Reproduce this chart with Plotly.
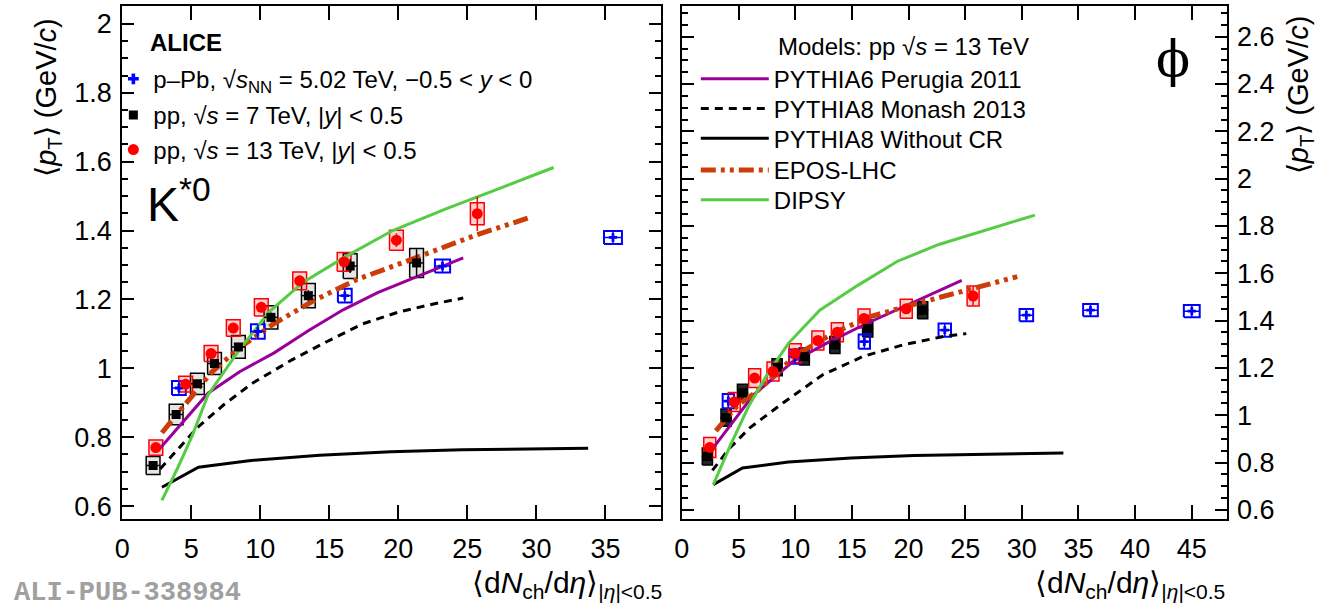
import plotly.graph_objects as go

W, H = 1319, 616

# ---------------- K*0 panel: data ----------------
ks_pp13_x = [2.43, 4.59, 6.43, 8.04, 10.07, 12.85, 16.07, 19.86, 25.72]
ks_pp13_y = [0.770, 0.954, 1.043, 1.117, 1.177, 1.254, 1.309, 1.372, 1.449]
ks_pp13_stat = [0.010, 0.010, 0.010, 0.011, 0.012, 0.013, 0.015, 0.020, 0.050]
ks_pp13_sys = [0.022, 0.023, 0.023, 0.024, 0.025, 0.026, 0.027, 0.029, 0.032]
ks_pp13_sysx = [0.5, 0.5, 0.5, 0.5, 0.5, 0.5, 0.5, 0.5, 0.5]

ks_pp7_x = [2.23, 3.90, 5.44, 6.68, 8.41, 10.77, 13.48, 16.51, 21.32]
ks_pp7_y = [0.718, 0.866, 0.955, 1.014, 1.062, 1.148, 1.211, 1.297, 1.306]
ks_pp7_stat = [0.008, 0.010, 0.010, 0.012, 0.012, 0.014, 0.016, 0.020, 0.040]
ks_pp7_sys = [0.026, 0.030, 0.031, 0.032, 0.033, 0.034, 0.035, 0.036, 0.042]
ks_pp7_sysx = [0.5, 0.5, 0.5, 0.5, 0.5, 0.5, 0.5, 0.5, 0.5]

ks_ppb_x = [4.10, 9.82, 16.12, 23.20, 35.55]
ks_ppb_y = [0.943, 1.107, 1.211, 1.297, 1.380]
ks_ppb_sys = [0.020, 0.021, 0.020, 0.019, 0.019]
ks_ppb_sysx = [0.5, 0.5, 0.5, 0.55, 0.65]

# ---------------- K*0 panel: models ----------------
ks_p6_x = [2.69, 4.5, 6.21, 8.5, 11.0, 13.5, 16.0, 18.5, 21.5, 24.7]
ks_p6_y = [0.766, 0.85, 0.928, 0.99, 1.045, 1.11, 1.17, 1.22, 1.27, 1.321]
ks_mon_x = [2.74, 5.44, 7.37, 9.43, 12.26, 14.84, 17.41, 19.98, 22.55, 24.7]
ks_mon_y = [0.708, 0.828, 0.895, 0.957, 1.024, 1.078, 1.129, 1.163, 1.187, 1.204]
ks_nocr_x = [2.87, 5.52, 9.17, 14.3, 19.46, 24.6, 33.75]
ks_nocr_y = [0.655, 0.713, 0.732, 0.748, 0.758, 0.764, 0.768]
ks_epos_x = [2.87, 4.8, 6.5, 8.5, 11.0, 13.8, 17.0, 21.2, 25.7, 29.45]
ks_epos_y = [0.813, 0.909, 0.99, 1.06, 1.13, 1.195, 1.258, 1.32, 1.388, 1.437]
ks_dipsy_x = [2.87, 4.0, 5.06, 6.21, 8.5, 10.66, 13.11, 16.2, 19.59, 23.4, 27.2, 31.25]
ks_dipsy_y = [0.617, 0.71, 0.804, 0.923, 1.055, 1.165, 1.250, 1.325, 1.400, 1.462, 1.520, 1.583]

# ---------------- phi panel: data ----------------
phi_pp13_x = [2.46, 4.62, 6.42, 8.04, 10.0, 12.0, 13.72, 16.07, 19.8, 25.7]
phi_pp13_y = [0.864, 1.056, 1.157, 1.185, 1.262, 1.316, 1.351, 1.409, 1.450, 1.504]
phi_pp13_stat = [0.012, 0.012, 0.012, 0.012, 0.013, 0.014, 0.015, 0.016, 0.020, 0.040]
phi_pp13_sys = [0.042, 0.040, 0.040, 0.040, 0.040, 0.040, 0.040, 0.040, 0.040, 0.042]
phi_pp13_sysx = [0.53, 0.53, 0.53, 0.53, 0.53, 0.53, 0.53, 0.53, 0.53, 0.53]

phi_pp7_x = [2.25, 3.9, 5.35, 8.4, 10.8, 13.5, 16.4, 21.25]
phi_pp7_y = [0.826, 0.99, 1.095, 1.203, 1.248, 1.297, 1.367, 1.444]
phi_pp7_stat = [0.010, 0.010, 0.010, 0.012, 0.012, 0.013, 0.015, 0.020]
phi_pp7_sys = [0.036, 0.036, 0.036, 0.036, 0.036, 0.036, 0.036, 0.036]
phi_pp7_sysx = [0.45, 0.45, 0.45, 0.45, 0.45, 0.45, 0.45, 0.45]

phi_ppb_x = [4.1, 9.97, 16.1, 23.2, 30.4, 36.06, 45.0]
phi_ppb_y = [1.060, 1.248, 1.311, 1.360, 1.423, 1.444, 1.440]
phi_ppb_sys = [0.030, 0.030, 0.030, 0.028, 0.026, 0.026, 0.026]
phi_ppb_sysx = [0.5, 0.5, 0.5, 0.55, 0.6, 0.65, 0.7]

# ---------------- phi panel: models ----------------
phi_p6_x = [2.8, 6.3, 9.8, 13.04, 16.4, 20.0, 24.7]
phi_p6_y = [0.864, 1.085, 1.227, 1.311, 1.39, 1.469, 1.570]
phi_mon_x = [2.69, 4.2, 6.02, 8.95, 12.46, 15.96, 19.47, 22.98, 25.1]
phi_mon_y = [0.767, 0.86, 0.948, 1.053, 1.172, 1.248, 1.297, 1.332, 1.345]
phi_nocr_x = [2.77, 5.35, 9.4, 14.93, 20.46, 27.84, 33.67]
phi_nocr_y = [0.707, 0.777, 0.802, 0.819, 0.830, 0.837, 0.841]
phi_epos_x = [3.0, 4.85, 6.6, 8.36, 10.1, 13.33, 16.55, 20.64, 25.03, 29.6]
phi_epos_y = [0.934, 1.039, 1.100, 1.175, 1.255, 1.346, 1.416, 1.471, 1.527, 1.586]
phi_dipsy_x = [2.77, 4.3, 5.9, 7.5, 9.4, 12.17, 15.49, 18.99, 22.68, 26.36, 31.16]
phi_dipsy_y = [0.707, 0.875, 1.039, 1.17, 1.304, 1.444, 1.548, 1.650, 1.722, 1.777, 1.846]

# ---------------- labels ----------------
model_names = ["PYTHIA6 Perugia 2011", "PYTHIA8 Monash 2013", "PYTHIA8 Without CR", "EPOS-LHC", "DIPSY"]
data_names = ["p\u2013Pb, \u221a<i>s</i><sub>NN</sub> = 5.02 TeV, \u22120.5 &lt; <i>y</i> &lt; 0",
              "pp, \u221a<i>s</i> = 7 TeV, |<i>y</i>| &lt; 0.5",
              "pp, \u221a<i>s</i> = 13 TeV, |<i>y</i>| &lt; 0.5"]

# ---------------- styles ----------------
C_RED = "#ff0000"
C_BLUE = "#0000ff"
C_PURPLE = "#990099"
C_EPOS = "#cc3d0a"
C_GREEN = "#55cc44"
FONT = "Liberation Sans"
EPOS_DASH = "15px,5px,4px,5px,4px,5px"
MON_DASH = "8px,6px"

fig = go.Figure()


def boxes(xs, ys, hx, hy):
    bx, by = [], []
    for x, y, dx, dy in zip(xs, ys, hx, hy):
        bx += [x - dx, x + dx, x + dx, x - dx, x - dx, None]
        by += [y - dy, y - dy, y + dy, y + dy, y - dy, None]
    return bx, by


def add_boxes(xs, ys, hx, hy, color, fill, xa, ya, width=1.5):
    bx, by = boxes(xs, ys, hx, hy)
    fig.add_trace(go.Scatter(x=bx, y=by, mode="lines", fill="toself", fillcolor=fill,
                             line=dict(color=color, width=width), showlegend=False,
                             hoverinfo="skip", xaxis=xa, yaxis=ya))


def add_points(xs, ys, ey, ex, color, symbol, size, xa, ya):
    fig.add_trace(go.Scatter(x=xs, y=ys, mode="markers",
                             marker=dict(color=color, symbol=symbol, size=size, line=dict(width=0)),
                             error_y=dict(type="data", array=ey, color=color, thickness=1.5, width=0),
                             error_x=dict(type="data", array=ex, color=color, thickness=1.5, width=0),
                             showlegend=False, xaxis=xa, yaxis=ya))


model_styles = [(C_PURPLE, "solid", 3), ("black", MON_DASH, 3), ("black", "solid", 3),
                (C_EPOS, EPOS_DASH, 5), (C_GREEN, "solid", 3)]

panels = [
    ("x", "y", (ks_pp13_x, ks_pp13_y, ks_pp13_stat, ks_pp13_sys, ks_pp13_sysx),
     (ks_pp7_x, ks_pp7_y, ks_pp7_stat, ks_pp7_sys, ks_pp7_sysx),
     (ks_ppb_x, ks_ppb_y, ks_ppb_sys, ks_ppb_sysx),
     [(ks_p6_x, ks_p6_y), (ks_mon_x, ks_mon_y), (ks_nocr_x, ks_nocr_y),
      (ks_epos_x, ks_epos_y), (ks_dipsy_x, ks_dipsy_y)], "rgba(0,0,0,0.10)"),
    ("x2", "y2", (phi_pp13_x, phi_pp13_y, phi_pp13_stat, phi_pp13_sys, phi_pp13_sysx),
     (phi_pp7_x, phi_pp7_y, phi_pp7_stat, phi_pp7_sys, phi_pp7_sysx),
     (phi_ppb_x, phi_ppb_y, phi_ppb_sys, phi_ppb_sysx),
     [(phi_p6_x, phi_p6_y), (phi_mon_x, phi_mon_y), (phi_nocr_x, phi_nocr_y),
      (phi_epos_x, phi_epos_y), (phi_dipsy_x, phi_dipsy_y)], "rgba(0,0,0,0.85)"),
]

for xa, ya, p13, p7, pb, models, p7fill in panels:
    x7, y7, s7, sy7, sx7 = p7
    x13, y13, s13, sy13, sx13 = p13
    xb, yb, syb, sxb = pb
    add_boxes(x7, y7, sx7, sy7, "black", p7fill, xa, ya)
    add_boxes(xb, yb, sxb, syb, C_BLUE, "rgba(0,0,0,0)", xa, ya, width=2)
    add_boxes(x13, y13, sx13, sy13, C_RED, "rgba(255,0,0,0.18)", xa, ya)
    for i, ((mx, my), nm, (c, ds, wd)) in enumerate(zip(models, model_names, model_styles)):
        show = xa == "x2"
        fig.add_trace(go.Scatter(x=mx, y=my, mode="lines", line=dict(color=c, dash=ds, width=wd),
                                 name=nm, showlegend=show, legend="legend%d" % (4 + i),
                                 xaxis=xa, yaxis=ya))
    add_points(xb, yb, syb, sxb, C_BLUE, "cross", 7, xa, ya)
    add_points(x7, y7, s7, [0.5] * len(x7), "black", "square", 9, xa, ya)
    add_points(x13, y13, s13, [0] * len(x13), C_RED, "circle", 11, xa, ya)

# data legend entries (marker only)
for i, (nm, c, sym, sz) in enumerate(zip(data_names, [C_BLUE, "black", C_RED],
                                         ["cross", "square", "circle"], [9, 9, 11])):
    fig.add_trace(go.Scatter(x=[None], y=[None], mode="markers", name=nm,
                             legend="legend" if i == 0 else "legend%d" % (i + 1),
                             marker=dict(color=c, symbol=sym, size=sz), xaxis="x", yaxis="y"))

X1 = [115 / W, 657 / W]
X2 = [678 / W, 1226 / W]
YD = [92 / H, (H - 6) / H]

tickfont = dict(family=FONT, size=27, color="black")
ax_common = dict(showline=True, linecolor="black", linewidth=2, mirror="ticks", ticks="inside",
                 tickcolor="black", tickwidth=2, showgrid=False, zeroline=False, tickfont=tickfont)
yminor = dict(dtick=0.05, ticklen=6, tickwidth=1.5, tickcolor="black", ticks="inside", showgrid=False)

legfont = dict(family=FONT, size=24, color="black")
legs = {}
data_rows = [80, 116.5, 151.5]
for i, yr in enumerate(data_rows):
    key = "legend" if i == 0 else "legend%d" % (i + 1)
    legs[key] = dict(x=106 / W, y=1 - yr / H, xanchor="left", yanchor="middle",
                     bgcolor="rgba(0,0,0,0)", font=legfont, itemwidth=30)
model_rows = [80, 110, 140, 172, 202]
for i, yr in enumerate(model_rows):
    legs["legend%d" % (4 + i)] = dict(x=692 / W, y=1 - yr / H, xanchor="left", yanchor="middle",
                                      bgcolor="rgba(0,0,0,0)", font=legfont, itemwidth=68)

fig.update_layout(
    width=W, height=H, margin=dict(l=0, r=0, t=0, b=0),
    paper_bgcolor="white", plot_bgcolor="white",
    xaxis=dict(domain=X1, range=[0, 39.03], dtick=5, tick0=0, ticklen=14, anchor="y",
               ticklabelstandoff=5, **ax_common),
    yaxis=dict(domain=YD, range=[0.563, 2.052], dtick=0.2, tick0=0.6, ticklen=12, anchor="x",
               minor=yminor, ticklabelstandoff=3, **ax_common),
    xaxis2=dict(domain=X2, range=[0, 48.07], dtick=5, tick0=0, ticklen=14, anchor="y2",
                ticklabelstandoff=5, **ax_common),
    yaxis2=dict(domain=YD, range=[0.562, 2.730], dtick=0.2, tick0=0.6, ticklen=12, anchor="x2",
                side="right", minor=yminor, ticklabelstandoff=3, **ax_common),
    showlegend=True,
    **legs,
)

ann = []


def A(text, x, y, size, xanchor="left", yanchor="middle", angle=0, family=FONT, color="black"):
    ann.append(dict(text=text, x=x / W, y=1 - y / H, xref="paper", yref="paper", showarrow=False,
                    xanchor=xanchor, yanchor=yanchor, textangle=angle,
                    font=dict(family=family, size=size, color=color)))


A("<b>ALICE</b>", 141, 43, 24)
A("K<sup>*0</sup>", 138, 203, 48)
A("\u03d5", 1172, 60, 50, xanchor="center", family="DejaVu Serif")
A("Models: pp \u221a<i>s</i> = 13 TeV", 773, 47, 24)
A("\u27e8<i>p</i><sub>T</sub>\u27e9 (GeV/<i>c</i>)", 40, 98, 29, xanchor="center", angle=-90)
A("\u27e8<i>p</i><sub>T</sub>\u27e9 (GeV/<i>c</i>)", 1300, 96, 29, xanchor="center", angle=-90)
xt = "\u27e8d<i>N</i><sub>ch</sub>/d<i>\u03b7</i>\u27e9<sub>|<i>\u03b7</i>|&lt;0.5</sub>"
A(xt, 660, 590, 30, xanchor="right")
A(xt, 1226, 590, 30, xanchor="right")
A("<b>ALI-PUB-338984</b>", 4, 616, 27, yanchor="bottom", family="Liberation Mono", color="#a0a0a0")
fig.update_layout(annotations=ann)

fig.write_html("out.html")
